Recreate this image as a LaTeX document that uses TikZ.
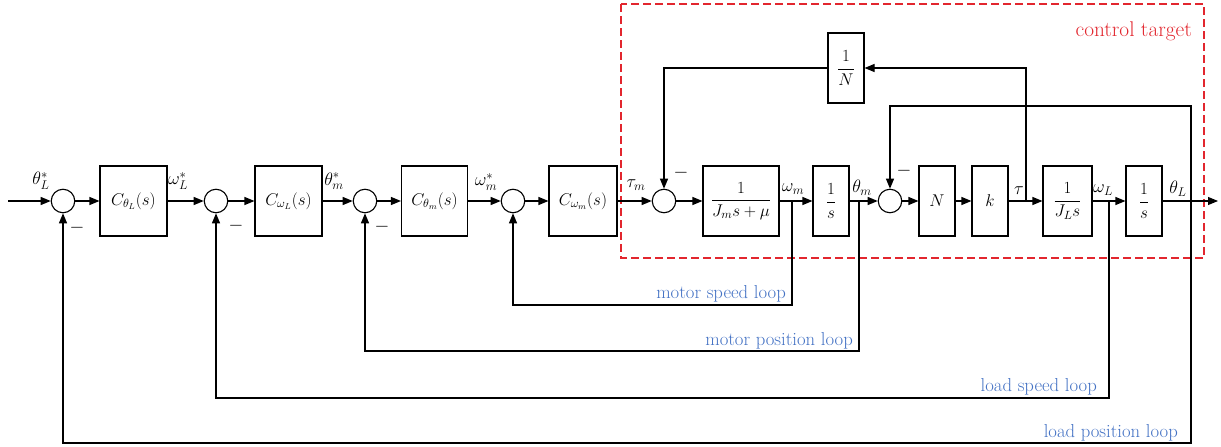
\RequirePackage{fix-cm}
\documentclass[tikz,border=0pt]{standalone}
\usepackage{amsmath}
\usetikzlibrary{arrows.meta}
\definecolor{loopblue}{RGB}{68,114,196}
\definecolor{ctred}{RGB}{226,38,46}
\begin{document}
\begin{tikzpicture}[x=1pt,y=-1pt,
  every node/.style={font=\fontsize{17}{20}\selectfont},
  sumnode/.style={circle,draw,line width=1.1pt,minimum size=23.5pt,inner sep=0pt},
  blk/.style={draw,line width=1.1pt,minimum height=70pt,inner sep=0pt,align=center},
  sig/.style={line width=1.1pt,-{Triangle[length=10pt,width=8pt]}},
  looplbl/.style={text=loopblue,font=\fontsize{18.7}{22}\selectfont,anchor=base east,inner sep=0pt},
  minus/.style={font=\fontsize{19}{22}\selectfont,inner sep=0pt},
  sglbl/.style={inner sep=0pt,font=\fontsize{18}{21}\selectfont},
]
\useasboundingbox (0,0) rectangle (1221,447);

% control target frame
\draw[ctred,line width=1.2pt,dash pattern=on 8pt off 4pt] (621,4) rectangle (1204,258);
\node[text=ctred,font=\fontsize{21.3}{24}\selectfont,anchor=base east,inner sep=0pt] (ctl) at (1192,36) {control target};

% summing junctions
\node[sumnode] (s1) at (63,201) {};
\node[sumnode] (s2) at (216,201) {};
\node[sumnode] (s3) at (365,201) {};
\node[sumnode] (s4) at (513,201) {};
\node[sumnode] (s5) at (664,201) {};
\node[sumnode] (s6) at (890,201) {};

% blocks
\node[blk,minimum width=67pt] (b1) at (133.5,201) {$C_{\theta_L}(s)$};
\node[blk,minimum width=67pt] (b2) at (288.5,201) {$C_{\omega_L}(s)$};
\node[blk,minimum width=66pt] (b3) at (434.5,201) {$C_{\theta_m}(s)$};
\node[blk,minimum width=68pt] (b4) at (583,201) {$C_{\omega_m}(s)$};
\node[blk,minimum width=76pt] (b5) at (741,201) {$\dfrac{1}{J_m s+\mu}$};
\node[blk,minimum width=36pt] (b6) at (831,201) {$\dfrac{1}{s}$};
\node[blk,minimum width=36pt] (b7) at (937,201) {$N$};
\node[blk,minimum width=36pt] (b8) at (990,201) {$k$};
\node[blk,minimum width=49pt] (b9) at (1067.5,201) {$\dfrac{1}{J_L s}$};
\node[blk,minimum width=36pt] (b10) at (1144,201) {$\dfrac{1}{s}$};
\node[blk,minimum width=36pt] (bN) at (846,68) {$\dfrac{1}{N}$};

% coordinates
\coordinate (in) at (8,201);
\coordinate (out) at (1218,201);
\coordinate (pwm) at (792,201);
\coordinate (pthm) at (859,201);
\coordinate (ptau) at (1026,201);
\coordinate (pwL) at (1109,201);
\coordinate (pthL) at (1191,201);

% forward path
\draw[sig] (in) -- (s1);
\draw[sig] (s1) -- (b1);
\draw[sig] (b1) -- (s2);
\draw[sig] (s2) -- (b2);
\draw[sig] (b2) -- (s3);
\draw[sig] (s3) -- (b3);
\draw[sig] (b3) -- (s4);
\draw[sig] (s4) -- (b4);
\draw[sig] (b4) -- (s5);
\draw[sig] (s5) -- (b5);
\draw[sig] (b5) -- (b6);
\draw[sig] (b6) -- (s6);
\draw[sig] (s6) -- (b7);
\draw[sig] (b7) -- (b8);
\draw[sig] (b8) -- (b9);
\draw[sig] (b9) -- (b10);
\draw[sig] (b10) -- (out);

% inner feedbacks
\draw[sig] (ptau) -- (ptau |- bN.east) -- (bN.east);
\draw[sig] (bN.west) -- (s5.north |- bN.west) -- (s5.north);
\draw[sig] (pthL) -- (1191,106) -- (s6.north |- 0,106) -- (s6.north);

% outer loops
\draw[sig] (pwm) -- (792,305) -- (s4.south |- 0,305) -- (s4.south);
\draw[sig] (pthm) -- (859,351) -- (s3.south |- 0,351) -- (s3.south);
\draw[sig] (pwL) -- (1109,398) -- (s2.south |- 0,398) -- (s2.south);
\draw[sig] (pthL) -- (1191,443) -- (s1.south |- 0,443) -- (s1.south);

% loop labels
\node[looplbl] (l1) at (786,298) {motor speed loop};
\node[looplbl] (l2) at (853,345) {motor position loop};
\node[looplbl] (l3) at (1097,391) {load speed loop};
\node[looplbl] (l4) at (1178,437) {load position loop};

% signal labels
\node[sglbl] (t1) at (41,181) {$\theta_L^*$};
\node[sglbl] (t2) at (178,181) {$\omega_L^*$};
\node[sglbl] (t3) at (334,181) {$\theta_m^*$};
\node[sglbl] (t4) at (486,182) {$\omega_m^*$};
\node[sglbl] (t5) at (636,185) {$\tau_m$};
\node[sglbl] (t6) at (793,189) {$\omega_m$};
\node[sglbl] (t7) at (862,188) {$\theta_m$};
\node[sglbl] (t8) at (1019,191) {$\tau$};
\node[sglbl] (t9) at (1103,190) {$\omega_L$};
\node[sglbl] (t10) at (1178,189) {$\theta_L$};

% minus signs
\node[minus] (m1) at (77,228) {$-$};
\node[minus] (m2) at (236,226) {$-$};
\node[minus] (m3) at (382,227) {$-$};
\node[minus] (m5) at (681,173) {$-$};
\node[minus] (m6) at (904,171) {$-$};
\end{tikzpicture}
\end{document}
